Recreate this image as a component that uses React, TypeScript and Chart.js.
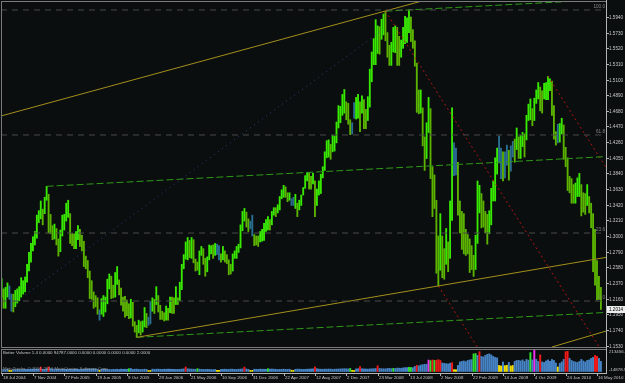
import React, { useEffect, useRef } from "react";
import { Chart, registerables } from "chart.js";
Chart.register(...registerables);

// ---------- DATA (weekly bars, week 0 = 18 Jul 2004) ----------
const weekLow = [
  1.2180, 1.2030, 1.2030, 1.2180, 1.2150, 1.1990, 1.1980, 1.2050, 1.2100, 1.2130, 1.2180, 1.2220, 1.2250, 1.2380, 1.2530, 1.2650,
  1.2800, 1.2880, 1.2970, 1.3180, 1.3230, 1.3150, 1.3300, 1.3480, 1.3040, 1.3030, 1.2950, 1.2960, 1.2880, 1.2730, 1.2790, 1.3000,
  1.3080, 1.3200, 1.3250, 1.2900, 1.2870, 1.2830, 1.2830, 1.2950, 1.2860, 1.2800, 1.2590, 1.2560, 1.2440, 1.2160, 1.2150, 1.2030,
  1.2050, 1.1950, 1.1870, 1.1950, 1.1920, 1.1980, 1.2090, 1.2290, 1.2160, 1.2170, 1.2180, 1.2350, 1.2210, 1.2070, 1.1990, 1.1910,
  1.1930, 1.1890, 1.1900, 1.1790, 1.1710, 1.1640, 1.1700, 1.1670, 1.1710, 1.1780, 1.1770, 1.1800, 1.1820, 1.1990, 1.1960, 1.2080,
  1.1980, 1.1880, 1.1880, 1.1860, 1.1870, 1.1870, 1.1970, 1.1960, 1.1960, 1.2080, 1.2080, 1.2130, 1.2280, 1.2560, 1.2690, 1.2680,
  1.2710, 1.2700, 1.2640, 1.2530, 1.2540, 1.2480, 1.2740, 1.2620, 1.2460, 1.2520, 1.2680, 1.2760, 1.2700, 1.2740, 1.2750, 1.2680,
  1.2650, 1.2680, 1.2650, 1.2630, 1.2480, 1.2490, 1.2530, 1.2700, 1.2700, 1.2780, 1.2840, 1.3070, 1.3200, 1.3120, 1.3060, 1.3100,
  1.3000, 1.2870, 1.2880, 1.2860, 1.2920, 1.2930, 1.2940, 1.3060, 1.3080, 1.3080, 1.3150, 1.3280, 1.3260, 1.3310, 1.3350, 1.3500,
  1.3520, 1.3520, 1.3460, 1.3480, 1.3410, 1.3410, 1.3370, 1.3260, 1.3350, 1.3410, 1.3550, 1.3640, 1.3740, 1.3630, 1.3630, 1.3700,
  1.3261, 1.3410, 1.3550, 1.3570, 1.3780, 1.3880, 1.4050, 1.4060, 1.4030, 1.4130, 1.4140, 1.4250, 1.4450, 1.4520, 1.4620, 1.4650,
  1.4560, 1.4500, 1.4360, 1.4370, 1.4580, 1.4570, 1.4580, 1.4400, 1.4650, 1.4440, 1.4440, 1.4550, 1.4730, 1.5070, 1.5300, 1.5300,
  1.5450, 1.5440, 1.5640, 1.5700, 1.5620, 1.5400, 1.5290, 1.5290, 1.5470, 1.5460, 1.5290, 1.5290, 1.5400, 1.5520, 1.5580, 1.5600,
  1.5730, 1.5610, 1.5520, 1.5280, 1.4660, 1.4640, 1.4650, 1.4210, 1.3880, 1.4040, 1.4390, 1.3770, 1.3260, 1.3370, 1.2500, 1.2330,
  1.2540, 1.2440, 1.2420, 1.2620, 1.2520, 1.2700, 1.3210, 1.3810, 1.3820, 1.3280, 1.3040, 1.2820, 1.2760, 1.2740, 1.2760, 1.2510,
  1.2550, 1.2457, 1.2550, 1.2900, 1.3310, 1.3110, 1.3120, 1.3040, 1.2890, 1.3030, 1.3150, 1.3470, 1.3470, 1.3830, 1.3980, 1.3770,
  1.3740, 1.3780, 1.3950, 1.3750, 1.3870, 1.4060, 1.3990, 1.4160, 1.4040, 1.4040, 1.4200, 1.4060, 1.4290, 1.4550, 1.4560, 1.4480,
  1.4550, 1.4780, 1.4840, 1.4680, 1.4650, 1.4840, 1.4830, 1.4830, 1.4950, 1.4620, 1.4300, 1.4220, 1.4250, 1.4260, 1.4370, 1.4030,
  1.3930, 1.3610, 1.3580, 1.3440, 1.3440, 1.3440, 1.3530, 1.3530, 1.3270, 1.3320, 1.3290, 1.3410, 1.3310, 1.3110, 1.2520, 1.2340,
  1.2143, 1.2150, 1.2014,
];
const weekHigh = [
  1.2430, 1.2290, 1.2310, 1.2370, 1.2330, 1.2220, 1.2220, 1.2270, 1.2290, 1.2320, 1.2440, 1.2400, 1.2450, 1.2620, 1.2780, 1.2900,
  1.2990, 1.3060, 1.3280, 1.3340, 1.3470, 1.3360, 1.3520, 1.3667, 1.3560, 1.3290, 1.3140, 1.3160, 1.3100, 1.2960, 1.3080, 1.3280,
  1.3290, 1.3440, 1.3480, 1.3300, 1.3030, 1.3030, 1.3060, 1.3140, 1.3090, 1.3010, 1.2930, 1.2730, 1.2670, 1.2530, 1.2400, 1.2250,
  1.2200, 1.2170, 1.2010, 1.2160, 1.2200, 1.2180, 1.2420, 1.2490, 1.2460, 1.2340, 1.2510, 1.2590, 1.2410, 1.2300, 1.2180, 1.2190,
  1.2140, 1.2090, 1.2150, 1.2110, 1.1850, 1.1800, 1.1870, 1.1850, 1.1860, 1.2040, 1.1960, 1.1910, 1.2120, 1.2170, 1.2150, 1.2320,
  1.2200, 1.2070, 1.1990, 1.1970, 1.2060, 1.2030, 1.2180, 1.2180, 1.2170, 1.2320, 1.2170, 1.2380, 1.2620, 1.2750, 1.2920, 1.2980,
  1.2940, 1.2980, 1.2950, 1.2690, 1.2650, 1.2800, 1.2860, 1.2830, 1.2700, 1.2720, 1.2880, 1.2870, 1.2880, 1.2900, 1.2890, 1.2870,
  1.2760, 1.2860, 1.2800, 1.2750, 1.2680, 1.2620, 1.2760, 1.2800, 1.2860, 1.2890, 1.3150, 1.3330, 1.3370, 1.3320, 1.3230, 1.3200,
  1.3280, 1.3020, 1.3000, 1.3000, 1.3060, 1.3090, 1.3170, 1.3220, 1.3260, 1.3220, 1.3330, 1.3380, 1.3380, 1.3420, 1.3530, 1.3620,
  1.3680, 1.3660, 1.3580, 1.3580, 1.3500, 1.3520, 1.3560, 1.3440, 1.3480, 1.3550, 1.3650, 1.3810, 1.3850, 1.3852, 1.3800, 1.3840,
  1.3740, 1.3630, 1.3740, 1.3830, 1.3930, 1.4130, 1.4280, 1.4290, 1.4230, 1.4350, 1.4340, 1.4530, 1.4750, 1.4740, 1.4900, 1.4966,
  1.4800, 1.4780, 1.4560, 1.4520, 1.4790, 1.4860, 1.4900, 1.4800, 1.4880, 1.4830, 1.4700, 1.4870, 1.5240, 1.5470, 1.5650, 1.5904,
  1.5820, 1.5810, 1.5910, 1.5980, 1.6018, 1.5730, 1.5560, 1.5600, 1.5800, 1.5820, 1.5800, 1.5680, 1.5630, 1.5800, 1.5950, 1.5930,
  1.6038, 1.5940, 1.5770, 1.5620, 1.5320, 1.4960, 1.4960, 1.4720, 1.4330, 1.4520, 1.4860, 1.4710, 1.3930, 1.3820, 1.3480, 1.3000,
  1.3300, 1.3000, 1.2830, 1.3100, 1.2920, 1.3470, 1.4720, 1.4250, 1.4180, 1.3990, 1.3470, 1.3330, 1.3300, 1.3090, 1.3020, 1.2960,
  1.2870, 1.2740, 1.3010, 1.3738, 1.3680, 1.3570, 1.3470, 1.3330, 1.3290, 1.3340, 1.3640, 1.3740, 1.4050, 1.4180, 1.4340, 1.4180,
  1.4130, 1.4130, 1.4220, 1.4150, 1.4210, 1.4270, 1.4300, 1.4450, 1.4330, 1.4350, 1.4390, 1.4370, 1.4620, 1.4770, 1.4840, 1.4710,
  1.4850, 1.4960, 1.5060, 1.5000, 1.4950, 1.5050, 1.5060, 1.5144, 1.5110, 1.5080, 1.4750, 1.4400, 1.4500, 1.4510, 1.4580, 1.4490,
  1.4190, 1.4050, 1.3800, 1.3770, 1.3690, 1.3710, 1.3780, 1.3840, 1.3690, 1.3580, 1.3570, 1.3690, 1.3530, 1.3440, 1.3300, 1.3090,
  1.2670, 1.2460, 1.2310,
];
// Better Volume (thousands of ticks) and its bar class per week
const volumeK = [
  20, 18, 17, 22, 12, 11, 21, 19, 22, 20, 18, 19, 21, 23, 22, 24,
  25, 24, 22, 26, 44, 23, 20, 27, 46, 28, 25, 24, 23, 22, 21, 24,
  22, 24, 21, 23, 20, 22, 21, 23, 20, 21, 22, 23, 24, 26, 25, 27,
  24, 22, 12, 23, 25, 22, 21, 20, 19, 22, 21, 23, 20, 24, 22, 23,
  22, 28, 30, 21, 23, 24, 22, 20, 21, 23, 22, 10, 11, 24, 22, 23,
  24, 22, 21, 23, 22, 24, 23, 21, 22, 20, 22, 21, 24, 26, 45, 27,
  25, 24, 23, 22, 28, 23, 22, 21, 20, 22, 21, 19, 18, 20, 12, 11,
  21, 22, 23, 22, 21, 24, 23, 22, 21, 23, 24, 26, 44, 25, 22, 11,
  12, 23, 22, 21, 24, 22, 23, 21, 28, 24, 25, 23, 22, 20, 21, 22,
  23, 22, 21, 23, 13, 12, 22, 24, 23, 22, 21, 22, 23, 24, 25, 26,
  46, 28, 24, 23, 22, 24, 23, 25, 24, 22, 23, 24, 25, 26, 27, 28,
  27, 26, 30, 12, 11, 26, 28, 48, 27, 26, 25, 24, 26, 27, 28, 30,
  57, 30, 28, 27, 26, 30, 32, 28, 31, 30, 34, 33, 32, 36, 38, 40,
  42, 40, 38, 50, 62, 56, 64, 68, 72, 72, 114, 108, 115, 110, 112, 118,
  110, 85, 80, 78, 75, 82, 88, 20, 18, 60, 95, 100, 105, 98, 110, 115,
  118, 175, 178, 160, 197, 150, 145, 160, 170, 175, 165, 150, 140, 135, 60, 55,
  95, 58, 62, 90, 55, 60, 100, 110, 110, 105, 115, 100, 120, 112, 188, 115,
  210, 120, 100, 165, 95, 90, 105, 115, 100, 120, 110, 85, 45, 80, 95, 120,
  197, 200, 130, 110, 100, 95, 90, 100, 120, 105, 95, 110, 115, 130, 140, 160,
  150, 130, 100,
];
// N normal, C climax, H churn, L low volume, M climax churn
const volumeKind = [
  "NNNNLLNNNNNNNNNN", "NNNNCNNNCNNNNNNN", "NNNNNNNNNNNNNNNN", "NNLNNNNNNNNNNNNN",
  "NHNNNNNNNNNLLNNN", "NNNNNNNNNNNNNNCN", "NNNNHNNNNNNNNNLL", "NNNNNNNNNNNNCNNL",
  "LNNNNNNNHNNNNNNN", "NNNNLLNNNNNNNNNN", "CNNNNNNNNNNNNNNN", "NNHLLNNCNNNNNNNN",
  "CNNNNNNNHNNNNNNN", "HHNNCNNNNNMHCHCC", "CNNNNNCLLNNNNNNN", "NHHNCNNNNNNNNNLL",
  "NLLNLLNNNNNNNNHN", "MNNCNNNNNNNNLNNN", "CCNNNNNNNNNNNNNC", "CNN",
].join("");

const dateLabels = [
  "18 Jul 2004", "7 Nov 2004", "27 Feb 2005", "19 Jun 2005", "9 Oct 2005", "29 Jan 2006", "21 May 2006",
  "10 Sep 2006", "31 Dec 2006", "22 Apr 2007", "12 Aug 2007", "2 Dec 2007", "23 Mar 2008", "13 Jul 2008",
  "2 Nov 2008", "22 Feb 2009", "14 Jun 2009", "4 Oct 2009", "24 Jan 2010", "16 May 2010",
];
const dateLabelWeeks = [0, 16, 32, 48, 64, 80, 96, 112, 128, 144, 160, 176, 192, 208, 224, 240, 256, 272, 288, 304];
const priceTicks = [
  1.5940, 1.5730, 1.5520, 1.5310, 1.5100, 1.4890, 1.4680, 1.4470, 1.4260, 1.4050, 1.3840,
  1.3630, 1.3420, 1.3210, 1.3000, 1.2790, 1.2580, 1.2370, 1.2160, 1.1950, 1.1740, 1.1530,
];
const fibLevels = [1.6034, 1.4356, 1.3040, 1.2127];
const fibNames = ["100.0", "61.8", "23.6", "0.0"];
const currentPrice = 1.2014;
const volumeMax = 213456.6;
const volumeMin = -14878.9;
const indicatorTitle = "Better Volume 1.4 0.0000 94787.0000 0.0000 0.0000 0.0000 0.0000 2.0000";
const watermark = "MetaTrader, \u00a9 2001-2010 MetaQuotes Software Corp.";

// trendlines: [week, price] anchor pairs
const yellowUpper = [[0, 1.4613], [214, 1.6150]];
const yellowLower = [[69, 1.1640], [308.6, 1.2713]];
const yellowBottom = [[281, 1.1510], [308.6, 1.1724]];
const greenChannelTop = [[23, 1.3667], [308.6, 1.4066]];
const greenChannelBottom = [[69, 1.1640], [308.6, 1.1974]];
const greenPeakLine = [[196, 1.6018], [308.6, 1.6175]];
const blueDotted = [[12, 1.2208], [193, 1.5738]];
const redFromPeak = [[196, 1.6018], [308.6, 1.1370]];
const redFromLow = [[223, 1.2330], [243, 1.1504]];
const redFromHigh09 = [[279, 1.5144], [308.6, 1.3922]];

const X_MIN = -0.3;
const X_MAX = 308.6;
const Y_MIN = 1.1510;
const Y_MAX = 1.6141;

const BG = "#0a0e0e";
const FONT = '"Liberation Sans", Arial, sans-serif';
const volColors: Record<string, string> = {
  N: "#4684c6",
  C: "#f01818",
  H: "#2fe02f",
  L: "#f0dc00",
  M: "#f030f0",
};

export default function App() {
  const mainRef = useRef<HTMLCanvasElement>(null);
  const volRef = useRef<HTMLCanvasElement>(null);

  useEffect(() => {
    const toXY = (pts: number[][]) => pts.map(([x, y]) => ({ x, y }));
    const lineDs = (pts: number[][], color: string, dash: number[]) => ({
      type: "line" as const,
      data: toXY(pts),
      borderColor: color,
      borderWidth: 1,
      borderDash: dash,
      pointRadius: 0,
      fill: false,
      tension: 0,
      order: 0,
    });

    const barColors = weekLow.map((lo, i) => {
      if (volumeKind[i] === "L") return "#2b6f92";
      const mid = (lo + weekHigh[i]) / 2;
      const prev = i > 0 ? (weekLow[i - 1] + weekHigh[i - 1]) / 2 : mid;
      return mid >= prev ? "#38ea00" : "#5cb400";
    });

    const mainDeco = {
      id: "mainDeco",
      beforeDraw(chart: any) {
        const { ctx, width, height } = chart;
        ctx.save();
        ctx.fillStyle = BG;
        ctx.fillRect(0, 0, width, height);
        ctx.restore();
      },
      afterDraw(chart: any) {
        const { ctx, chartArea: a, height } = chart;
        const ys = chart.scales.y;
        ctx.save();
        ctx.fillStyle = "#7a7a7a";
        ctx.fillRect(a.left, 1, 1, height - 1);
        ctx.fillRect(a.left, 1, a.right - a.left, 1);
        ctx.fillRect(a.left, a.bottom, a.right - a.left, 1);
        ctx.fillStyle = "#b4b4b4";
        ctx.fillRect(a.right, 0, 1, height);
        ctx.font = `4.6px ${FONT}`;
        ctx.textBaseline = "middle";
        ctx.textAlign = "left";
        priceTicks.forEach((p) => {
          const py = Math.round(ys.getPixelForValue(p));
          ctx.fillStyle = "#b4b4b4";
          ctx.fillRect(a.right + 1, py, 2, 1);
          ctx.fillStyle = "#c8c8c8";
          ctx.fillText(p.toFixed(4), a.right + 3, py + 0.5);
        });
        ctx.textAlign = "right";
        ctx.textBaseline = "bottom";
        ctx.fillStyle = "#8a8a8a";
        fibLevels.forEach((p, i) => {
          ctx.fillText(fibNames[i], a.right - 1, ys.getPixelForValue(p) - 1);
        });
        const cy = Math.round(ys.getPixelForValue(currentPrice));
        ctx.fillStyle = "#ececec";
        ctx.fillRect(a.right + 1, cy - 3, 18, 7);
        ctx.fillStyle = "#000000";
        ctx.textAlign = "left";
        ctx.textBaseline = "middle";
        ctx.fillText(currentPrice.toFixed(4), a.right + 3, cy + 0.5);
        ctx.restore();
      },
    };

    const fibDs = fibLevels.map((p) =>
      lineDs([[X_MIN, p], [X_MAX, p]], "#4c4c4c", [6, 5])
    );

    const mainChart = new Chart(mainRef.current as HTMLCanvasElement, {
      type: "bar",
      data: {
        datasets: [
          ...fibDs,
          lineDs(blueDotted, "#23467a", [1, 4]),
          lineDs(yellowUpper, "#a48f1c", []),
          lineDs(yellowLower, "#a48f1c", []),
          lineDs(yellowBottom, "#a48f1c", []),
          lineDs(greenChannelTop, "#2f9a18", [7, 3]),
          lineDs(greenChannelBottom, "#2f9a18", [7, 3]),
          lineDs(greenPeakLine, "#2f9a18", [7, 3]),
          lineDs(redFromPeak, "#b01414", [2, 3]),
          lineDs(redFromLow, "#b01414", [2, 3]),
          lineDs(redFromHigh09, "#b01414", [2, 3]),
          {
            type: "bar" as const,
            data: weekLow.map((lo, i) => ({ x: i, y: [lo, weekHigh[i]] })) as any,
            backgroundColor: barColors,
            borderWidth: 0,
            barThickness: 1.2,
            order: 1,
          },
        ] as any,
      },
      options: {
        animation: false,
        responsive: false,
        maintainAspectRatio: false,
        devicePixelRatio: 1,
        events: [],
        layout: { padding: { left: 1, right: 19, top: 2, bottom: 1 } },
        scales: {
          x: { type: "linear", min: X_MIN, max: X_MAX, offset: false, display: false },
          y: { type: "linear", min: Y_MIN, max: Y_MAX, display: false },
        },
        plugins: { legend: { display: false }, tooltip: { enabled: false } },
      },
      plugins: [mainDeco],
    });

    const volDeco = {
      id: "volDeco",
      beforeDraw(chart: any) {
        const { ctx, width, height } = chart;
        ctx.save();
        ctx.fillStyle = BG;
        ctx.fillRect(0, 0, width, height);
        ctx.restore();
      },
      afterDraw(chart: any) {
        const { ctx, chartArea: a } = chart;
        const xs = chart.scales.x;
        ctx.save();
        ctx.fillStyle = "#7a7a7a";
        ctx.fillRect(a.left, 1, a.right - a.left, 1);
        ctx.fillRect(a.left, 1, 1, a.bottom);
        ctx.fillStyle = "#b4b4b4";
        ctx.fillRect(a.left, a.bottom, a.right - a.left + 1, 1);
        ctx.fillRect(a.right, 0, 1, a.bottom);
        ctx.font = `4.4px ${FONT}`;
        ctx.textBaseline = "middle";
        ctx.textAlign = "left";
        ctx.fillStyle = "#c8c8c8";
        ctx.fillText(volumeMax.toFixed(1), a.right + 3, a.top + 2);
        ctx.fillText(volumeMin.toFixed(1), a.right + 3, a.bottom - 3);
        ctx.fillText(indicatorTitle, 3, a.top + 3);
        dateLabels.forEach((lab, i) => {
          const px = Math.round(xs.getPixelForValue(dateLabelWeeks[i]));
          ctx.fillStyle = "#b4b4b4";
          ctx.fillRect(px, a.bottom, 1, 3);
          ctx.fillStyle = "#c8c8c8";
          ctx.fillText(lab, px + 1, a.bottom + 5);
        });
        ctx.fillStyle = "rgba(190,190,190,0.75)";
        ctx.fillText(watermark, 3, a.bottom - 4);
        ctx.restore();
      },
    };

    const volChart = new Chart(volRef.current as HTMLCanvasElement, {
      type: "bar",
      data: {
        datasets: [
          {
            data: volumeK.map((v, i) => ({ x: i, y: v * 1000 })) as any,
            backgroundColor: volumeK.map((_, i) => volColors[volumeKind[i] || "N"]),
            borderWidth: 0,
            barThickness: 1.3,
          },
        ],
      },
      options: {
        animation: false,
        responsive: false,
        maintainAspectRatio: false,
        devicePixelRatio: 1,
        events: [],
        layout: { padding: { left: 1, right: 19, top: 2, bottom: 10 } },
        scales: {
          x: { type: "linear", min: X_MIN, max: X_MAX, offset: false, display: false },
          y: { type: "linear", min: volumeMin, max: volumeMax, display: false },
        },
        plugins: { legend: { display: false }, tooltip: { enabled: false } },
      },
      plugins: [volDeco],
    });

    return () => {
      mainChart.destroy();
      volChart.destroy();
    };
  }, []);

  return (
    <div
      style={{
        position: "fixed",
        left: 0,
        top: 0,
        width: 625,
        height: 383,
        background: BG,
        overflow: "hidden",
      }}
    >
      <canvas ref={mainRef} width={625} height={348} style={{ display: "block" }} />
      <canvas ref={volRef} width={625} height={35} style={{ display: "block" }} />
    </div>
  );
}
